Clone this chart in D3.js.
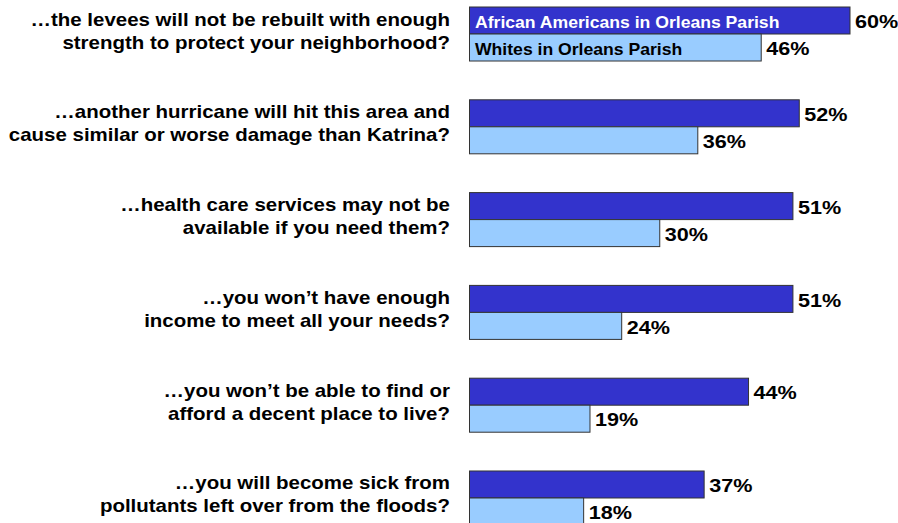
<!DOCTYPE html>
<html>
<head>
<meta charset="utf-8">
<script src="https://cdn.jsdelivr.net/npm/d3@7"></script>
<style>
  body { margin: 0; background: #fff; }
  text { font-family: "Liberation Sans", Arial, sans-serif; font-weight: bold; }
</style>
</head>
<body>
<div id="chart-area"></div>
<script>
const WIDTH = 898
const HEIGHT = 523

// question labels (two lines each)
const questions = [
  ["\u2026the levees will not be rebuilt with enough", "strength to protect your neighborhood?"],
  ["\u2026another hurricane will hit this area and", "cause similar or worse damage than Katrina?"],
  ["\u2026health care services may not be", "available if you need them?"],
  ["\u2026you won\u2019t have enough", "income to meet all your needs?"],
  ["\u2026you won\u2019t be able to find or", "afford a decent place to live?"],
  ["\u2026you will become sick from", "pollutants left over from the floods?"]
]
const seriesNames = ["African Americans in Orleans Parish", "Whites in Orleans Parish"]
const africanAmericans = [60, 52, 51, 51, 44, 37]
const whites = [46, 36, 30, 24, 19, 18]

const COLORS = ["#3333CC", "#99CCFF"]
const LEGEND_TEXT = ["#ffffff", "#000000"]
// the original type is set a bit wide
const LABEL_STRETCH = 1.17
const VALUE_STRETCH = 1.2
const LEGEND_STRETCH = 1.08

const svg = d3.select("#chart-area").append("svg")
  .attr("width", WIDTH)
  .attr("height", HEIGHT)

const idx = d3.range(questions.length)

// scales
const x = d3.scaleLinear().domain([0, 60]).range([469.5, 850])
const y = d3.scaleBand()
  .domain(idx)
  .range([7, 7 + 5 * 92.8 + 54])
  .paddingInner(0.418)
  .paddingOuter(0)
const ySub = d3.scaleBand()
  .domain([0, 1])
  .range([0, y.bandwidth()])

const groups = svg.selectAll("g.group")
  .data(idx)
  .enter().append("g")
  .attr("class", "group")
  .attr("transform", i => `translate(0, ${y(i)})`)

// question labels
groups.append("g")
  .attr("transform", `translate(450, ${y.bandwidth() / 2}) scale(${LABEL_STRETCH}, 1)`)
  .append("text")
  .attr("text-anchor", "end")
  .attr("font-size", "17.5px")
  .attr("fill", "#000")
  .selectAll("tspan")
  .data(i => questions[i])
  .enter().append("tspan")
  .attr("x", 0)
  .attr("y", (d, j) => j === 0 ? -8.5 : 14.5)
  .text(d => d)

// bars
const barData = i => [africanAmericans[i], whites[i]].map((v, s) => ({ v, s, i }))

groups.selectAll("rect")
  .data(barData)
  .enter().append("rect")
  .attr("x", x(0))
  .attr("y", d => ySub(d.s))
  .attr("width", d => x(d.v) - x(0))
  .attr("height", ySub.bandwidth())
  .attr("fill", d => COLORS[d.s])
  .attr("stroke", "#333")
  .attr("stroke-width", 1)

// value labels
groups.selectAll("g.value")
  .data(barData)
  .enter().append("g")
  .attr("class", "value")
  .attr("transform", d => `translate(${x(d.v) + 5}, ${ySub(d.s) + ySub.bandwidth() / 2}) scale(${VALUE_STRETCH}, 1)`)
  .append("text")
  .attr("dy", "0.43em")
  .attr("font-size", "18px")
  .attr("fill", "#000")
  .text(d => `${d.v}%`)

// legend text inside the first pair of bars
svg.selectAll("g.legend")
  .data(seriesNames)
  .enter().append("g")
  .attr("class", "legend")
  .attr("transform", (d, s) => `translate(${x(0) + 5.5}, ${y(0) + ySub(s) + ySub.bandwidth() / 2}) scale(${LEGEND_STRETCH}, 1)`)
  .append("text")
  .attr("dy", "0.43em")
  .attr("font-size", "16.3px")
  .attr("fill", (d, s) => LEGEND_TEXT[s])
  .text(d => d)
</script>
</body>
</html>
